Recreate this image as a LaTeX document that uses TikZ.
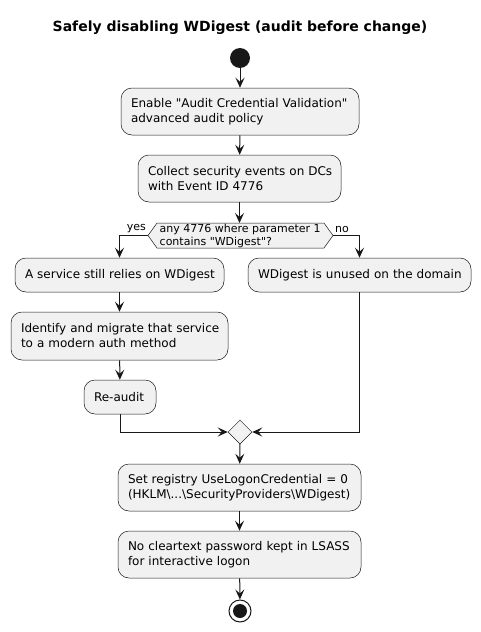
\documentclass[tikz,border=0pt]{standalone}
\usepackage{fontspec}
\setmainfont{DejaVu Sans}[Ligatures=TeXOff]
\usetikzlibrary{arrows.meta,shapes.geometric}
\definecolor{linec}{HTML}{181818}
\definecolor{boxfill}{HTML}{F1F1F1}
\begin{document}
\begin{tikzpicture}[x=1pt,y=-1pt,
  act/.style={draw=linec, fill=boxfill, rounded corners=11pt, align=left, inner xsep=10pt, inner ysep=0pt, line width=0.5pt, font=\fontsize{12}{15}\selectfont},
  flow/.style={draw=linec, line width=1pt, -{Stealth[length=10pt,width=9pt,inset=4pt]}},
  lbl/.style={font=\fontsize{11}{13}\selectfont, inner sep=0pt}
]
\useasboundingbox (0,0) rectangle (481,632);
\node[font=\bfseries\fontsize{14}{16}\selectfont] (title) at (240,28) {Safely disabling WDigest (audit before change)};
\node[circle, fill=linec, minimum size=20pt, inner sep=0pt] (start) at (240,58) {};
\node[act, text width=218pt, minimum height=47pt] (b1) at (240,111.5) {\mbox{Enable "Audit Credential Validation"}\\\mbox{advanced audit policy}};
\node[act, text width=183pt, minimum height=47pt] (b2) at (239.5,178.5) {\mbox{Collect security events on DCs}\\\mbox{with Event ID 4776}};
\coordinate (dl) at (148,235.5);
\coordinate (dr) at (333,235.5);
\draw[draw=linec, fill=boxfill, line width=0.5pt] (dl) -- (157,223) -- (324,223) -- (dr) -- (324,248) -- (157,248) -- cycle;
\node[lbl, align=left, anchor=west] (dtext) at (159.5,235.5) {any 4776 where parameter 1\\contains "WDigest"?};
\node[lbl, anchor=east] (yes) at (146,229) {yes};
\node[lbl, anchor=west] (no) at (335,229) {no};
\node[act, text width=189pt, minimum height=34pt] (b3) at (119.5,275) {\mbox{A service still relies on WDigest}};
\node[act, text width=203pt, minimum height=34pt] (b4) at (359.5,275) {\mbox{WDigest is unused on the domain}};
\node[act, text width=197pt, minimum height=48pt] (b5) at (119.5,336) {\mbox{Identify and migrate that service}\\\mbox{to a modern auth method}};
\node[act, text width=52pt, minimum height=34pt] (b6) at (120,397) {\mbox{Re-audit}};
\node[diamond, draw=linec, fill=boxfill, line width=0.5pt, minimum size=24pt, inner sep=0pt] (merge) at (240,432) {};
\node[act, text width=223pt, minimum height=47pt] (b7) at (239.5,487.5) {\mbox{Set registry UseLogonCredential = 0}\\\mbox{(HKLM\textbackslash...\textbackslash SecurityProviders\textbackslash WDigest)}};
\node[act, text width=223pt, minimum height=47pt] (b8) at (239.5,554.5) {\mbox{No cleartext password kept in LSASS}\\\mbox{for interactive logon}};
\node[circle, draw=linec, line width=1pt, fill=white, minimum size=22pt, inner sep=0pt] (end) at (240,611) {};
\node[circle, fill=linec, minimum size=14pt, inner sep=0pt] (endin) at (end.center) {};
\draw[flow] (start) -- (b1);
\draw[flow] (b1) -- (b2);
\draw[flow] (b2.south) -- (239.5,223);
\draw[flow] (dl) -| (b3.north);
\draw[flow] (dr) -| (b4.north);
\draw[flow] (b3) -- (b5);
\draw[flow] (b5) -- (b6);
\draw[flow] (b6.south) |- (merge.west);
\draw[flow] (b4.south) |- (merge.east);
\draw[flow] (merge) -- (b7);
\draw[flow] (b7) -- (b8);
\draw[flow] (b8) -- (end);
\end{tikzpicture}
\end{document}
